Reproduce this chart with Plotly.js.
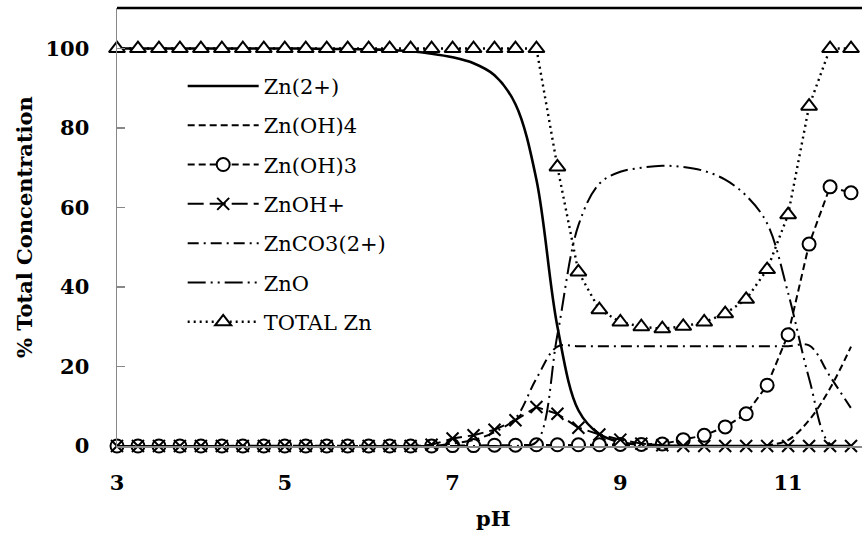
<!DOCTYPE html>
<html>
<head>
<meta charset="utf-8">
<script src="https://cdn.plot.ly/plotly-3.0.1.min.js"></script>
<style>
html,body{margin:0;padding:0;overflow:hidden;background:#fff;}
#chart{width:872px;height:535px;}
</style>
</head>
<body>
<div id="chart"></div>
<script>
const pH = [3,3.25,3.5,3.75,4,4.25,4.5,4.75,5,5.25,5.5,5.75,6,6.25,6.5,6.75,7,7.25,7.5,7.75,8,8.25,8.5,8.75,9,9.25,9.5,9.75,10,10.25,10.5,10.75,11,11.25,11.5,11.75];
const zn2 = [100,100,100,100,100,100,100,100,100,100,99.9,99.9,99.8,99.6,99.3,98.7,97.8,96.3,93.3,86,67,30,9,3,1,0.3,0.1,0,0,0,0,0,0,0,0,0];
const znoh4 = [0,0,0,0,0,0,0,0,0,0,0,0,0,0,0,0,0,0,0,0,0,0,0,0,0,0,0,0,0,0,0,0.2,1.5,6.5,14.5,25];
const znoh3 = [0,0,0,0,0,0,0,0,0,0,0,0,0,0,0,0,0.1,0.1,0.2,0.2,0.3,0.3,0.3,0.3,0.4,0.4,0.5,1.6,2.7,4.8,8.1,15.3,28,50.8,65.2,63.7];
const znohp = [0,0,0,0,0,0,0,0,0,0,0,0,0,0,0,0.3,1.9,2.7,4.1,6.5,9.8,8.1,4.6,2.9,1.6,0.6,0.2,0,0,0,0,0,0,0,0,0];
const znco3 = [0,0,0,0,0,0,0,0,0,0,0,0,0,0,0,0,0.6,1.5,3.5,7,17,25,25.1,25.1,25.1,25.1,25.1,25.1,25.1,25.1,25.1,25.1,25.1,25.3,17.5,9.5];
const zno = [0,0,0,0,0,0,0,0,0,0,0,0,0,0,0,0,0,0,0,0,1,28,55.5,66,69,70,70.5,70.2,69.2,67,63,56,38.5,17,0.5,0];
const totalZn = [100,100,100,100,100,100,100,100,100,100,100,100,100,100,100,100,100,100,100,100,100,70.2,43.8,34.3,31.2,30,29.5,30.1,31.2,33.3,36.9,44.4,58.2,85.5,100,100];
const names = ['Zn(2+)','Zn(OH)4','Zn(OH)3','ZnOH+','ZnCO3(2+)','ZnO','TOTAL Zn'];
const xTicks = [3,5,7,9,11];
const yTicks = [0,20,40,60,80,100];

const serif = 'DejaVu Serif';
const traces = [
  {x:pH, y:zn2, name:names[0], mode:'lines', line:{color:'#000', width:2.6, shape:'spline', smoothing:1}},
  {x:pH, y:znoh4, name:names[1], mode:'lines', line:{color:'#000', width:2, dash:'7px,4px', shape:'spline', smoothing:1}},
  {x:pH, y:znoh3, name:names[2], mode:'lines+markers', line:{color:'#000', width:2, dash:'7px,4px'},
   marker:{symbol:'circle', size:13, color:'#fff', line:{color:'#000', width:2}}},
  {x:pH, y:znohp, name:names[3], mode:'lines+markers', line:{color:'#000', width:2, dash:'16px,6px'},
   marker:{symbol:'x-thin-open', size:12, color:'#000', line:{color:'#000', width:2}}},
  {x:pH, y:znco3, name:names[4], mode:'lines', line:{color:'#000', width:2, dash:'11px,5px,2px,5px', shape:'spline', smoothing:1}},
  {x:pH, y:zno, name:names[5], mode:'lines', line:{color:'#000', width:2, dash:'18px,5px,2px,5px,2px,5px', shape:'spline', smoothing:1}},
  {x:pH, y:totalZn, name:names[6], mode:'lines+markers', line:{color:'#000', width:2.4, dash:'2px,4px'},
   marker:{symbol:'triangle-up', size:14, color:'#fff', line:{color:'#000', width:2}}}
];
traces.forEach((t,i)=>{ t.legendgroup = 'g'+i; t.cliponaxis = false; });

const layout = {
  width:872, height:535, autosize:false,
  margin:{l:117, r:0, t:8, b:89},
  paper_bgcolor:'#fff', plot_bgcolor:'#fff',
  showlegend:true,
  legend:{x:0.087, y:0.868, xanchor:'left', yanchor:'top', bgcolor:'rgba(0,0,0,0)',
    font:{family:serif, size:21, color:'#000'}, traceorder:'grouped', tracegroupgap:9, itemwidth:71},
  xaxis:{range:[3,12], tickvals:xTicks, ticktext:xTicks.map(String), showgrid:false, zeroline:false,
    showline:true, linecolor:'#888', linewidth:1.5, ticks:'', ticklabelstandoff:17,
    tickfont:{family:serif, size:21, color:'#000', weight:'bold'}},
  yaxis:{range:[0,110.2], tickvals:yTicks, ticktext:yTicks.map(String), showgrid:false, zeroline:false,
    showline:true, linecolor:'#888', linewidth:1.5, ticks:'inside', ticklen:8, tickcolor:'#888', tickwidth:1.5,
    ticklabelstandoff:22, tickfont:{family:serif, size:21, color:'#000', weight:'bold'}},
  shapes:[{type:'line', xref:'paper', yref:'paper', x0:0, x1:1, y0:1, y1:1, line:{color:'#000', width:2.5}}],
  annotations:[
    {text:'% Total Concentration', xref:'paper', yref:'paper', x:-0.1232, y:0.5, xanchor:'center', yanchor:'middle',
     textangle:-90, showarrow:false, font:{family:serif, size:21, color:'#000', weight:'bold'}},
    {text:'pH', xref:'paper', yref:'paper', x:0.499, y:-0.165, xanchor:'center', yanchor:'middle',
     showarrow:false, font:{family:serif, size:21, color:'#000', weight:'bold'}}
  ]
};
Plotly.newPlot('chart', traces, layout, {displayModeBar:false, staticPlot:true});
</script>
</body>
</html>
